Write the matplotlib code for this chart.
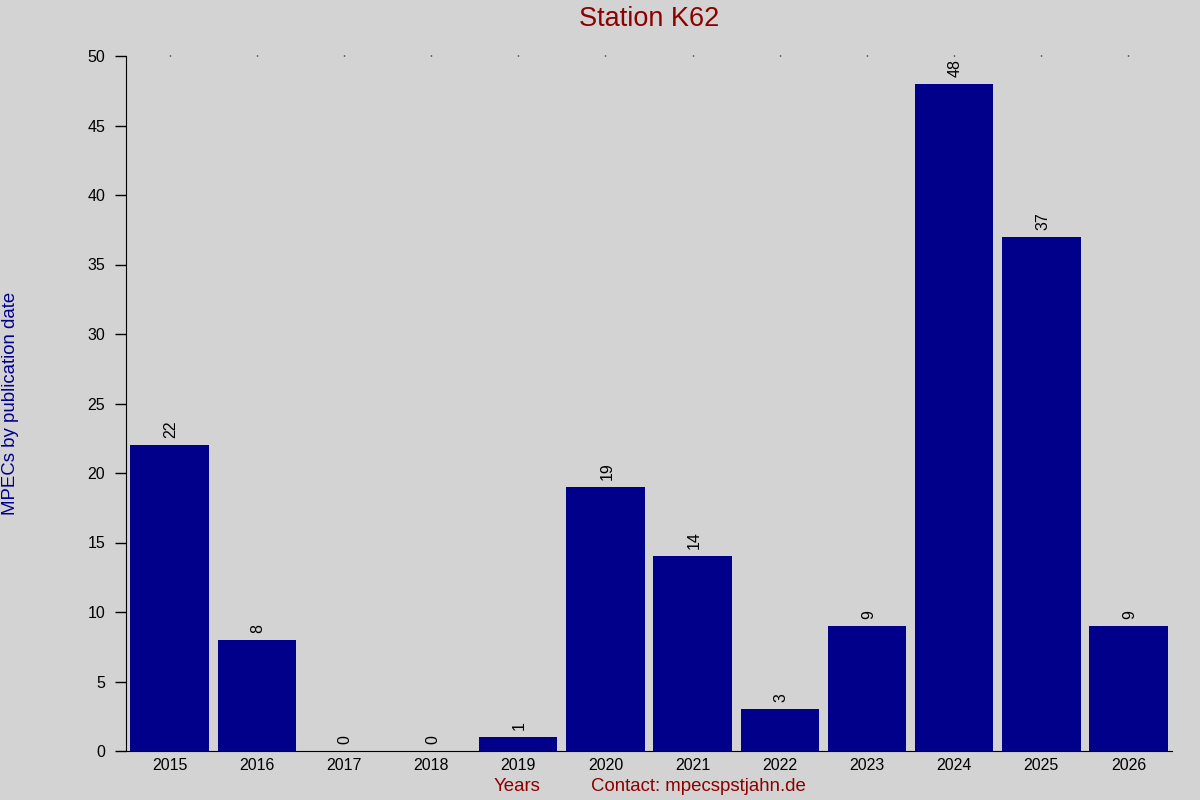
import matplotlib
matplotlib.use("Agg")
import matplotlib.pyplot as plt
import numpy as np

plt.rcParams['font.family'] = ['Liberation Sans', 'DejaVu Sans']

# data
years = ['2015', '2016', '2017', '2018', '2019', '2020',
         '2021', '2022', '2023', '2024', '2025', '2026']
mpecs = [22, 8, 0, 0, 1, 19, 14, 3, 9, 48, 37, 9]

bg = '#d3d3d3'
fig = plt.figure(figsize=(12, 8), dpi=100, facecolor=bg)
ax = fig.add_axes([0.105, 0.06125, 0.8717, 0.86875])
ax.set_facecolor(bg)

x = np.arange(len(years))
ax.bar(x, mpecs, width=0.9, color='#00008b', zorder=2)

# value labels above bars
for xi, v in zip(x, mpecs):
    ax.annotate(str(v), (xi, v), xytext=(1, 5), textcoords='offset points',
                ha='center', va='bottom', rotation=90, fontsize=11.5, color='black')

ax.set_xlim(-0.5, len(years) - 0.5)
ax.set_ylim(0, 50)
ax.set_yticks(np.arange(0, 51, 5))
ax.set_xticks(x)
ax.set_xticklabels(years)

for s in ['top', 'right']:
    ax.spines[s].set_visible(False)
ax.spines['left'].set_color('black')
ax.spines['bottom'].set_color('black')

ax.tick_params(axis='y', direction='out', length=8, width=1, pad=7, labelsize=11.5)
ax.tick_params(axis='x', bottom=False, top=True, labelbottom=True, labeltop=False,
               length=1, width=1, pad=4, labelsize=11.5)

fig.text(0.541, 0.976, 'Station K62', ha='center', va='center',
         fontsize=19.5, color='#8b0000')
fig.text(0.009, 0.496, 'MPECs by publication date', rotation=90,
         ha='center', va='center', fontsize=13.4, color='#00008b')
fig.text(0.431, 0.017, 'Years', ha='center', va='center',
         fontsize=13.4, color='#8b0000')
fig.text(0.4925, 0.017, 'Contact: mpecspstjahn.de', ha='left', va='center',
         fontsize=13.4, color='#8b0000')

fig.savefig('out.png', dpi=100, facecolor=bg)
